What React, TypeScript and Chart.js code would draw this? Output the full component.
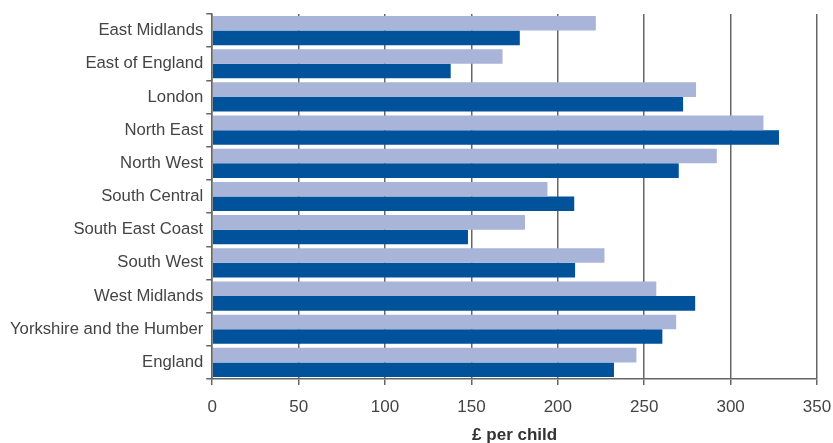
import React, { useEffect, useRef } from "react";
import { Chart, registerables } from "chart.js";

Chart.register(...registerables);

const categories = [
  "East Midlands",
  "East of England",
  "London",
  "North East",
  "North West",
  "South Central",
  "South East Coast",
  "South West",
  "West Midlands",
  "Yorkshire and the Humber",
  "England",
];

const seriesLight = [222, 168, 280, 319, 292, 194, 181, 227, 257, 268.5, 245.5];
const seriesDark = [178, 138, 272.5, 328, 270, 209.5, 148, 210, 279.5, 260.5, 232.5];

const xTicks = [0, 50, 100, 150, 200, 250, 300, 350];

export default function App() {
  const ref = useRef<HTMLCanvasElement | null>(null);

  useEffect(() => {
    document.body.style.margin = "0";
    const ctx = ref.current;
    if (!ctx) return;
    const font = "'Liberation Sans', Arial, Helvetica, sans-serif";
    const chart = new Chart(ctx, {
      type: "bar",
      data: {
        labels: categories,
        datasets: [
          {
            label: "Series 1",
            data: seriesLight,
            backgroundColor: "#A9B5D8",
            borderWidth: 0,
            barPercentage: 1,
            categoryPercentage: 0.88,
          },
          {
            label: "Series 2",
            data: seriesDark,
            backgroundColor: "#00529B",
            borderWidth: 0,
            barPercentage: 1,
            categoryPercentage: 0.88,
          },
        ],
      },
      options: {
        indexAxis: "y",
        responsive: false,
        animation: false,
        layout: { padding: { top: 14, right: 0, left: 7, bottom: -3 } },
        plugins: {
          legend: { display: false },
          tooltip: { enabled: false },
        },
        scales: {
          x: {
            type: "linear",
            min: 0,
            max: 350,
            afterBuildTicks: (axis: any) => {
              axis.ticks = xTicks.map((v) => ({ value: v }));
            },
            afterFit: (axis: any) => {
              axis.paddingRight = 16;
            },
            grid: {
              display: true,
              color: "#666666",
              lineWidth: 1.5,
              drawOnChartArea: true,
              drawTicks: true,
              tickLength: 6,
            },
            border: { display: true, color: "#666666", width: 1.5 },
            ticks: {
              color: "#444444",
              font: { family: font, size: 17 },
              padding: 12,
              maxRotation: 0,
            },
            title: {
              display: true,
              text: "£ per child",
              color: "#333333",
              font: { family: font, size: 17, weight: "bold" },
              padding: { top: -3.8, bottom: 0 },
            },
          },
          y: {
            type: "category",
            grid: {
              display: true,
              offset: true,
              color: "#666666",
              lineWidth: 1.5,
              drawOnChartArea: false,
              drawTicks: true,
              tickLength: 6,
            },
            border: { display: true, color: "#666666", width: 1.5 },
            ticks: {
              color: "#444444",
              font: { family: font, size: 16.7 },
              padding: 3,
            },
          },
        },
      },
    } as any);
    return () => chart.destroy();
  }, []);

  return <canvas ref={ref} width={833} height={443} />;
}
